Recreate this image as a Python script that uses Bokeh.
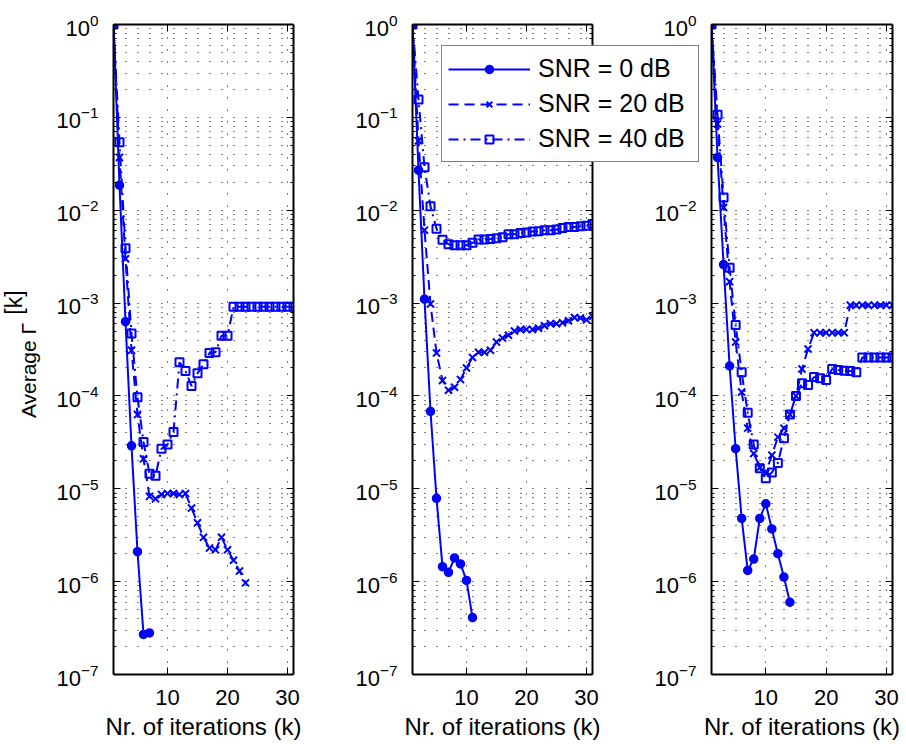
from bokeh.plotting import figure
from bokeh.layouts import row
from bokeh.models import (FixedTicker, LinearAxis, LogAxis, Legend, LegendItem,
                          Label, Range1d, CustomJSTickFormatter)
from bokeh.embed import file_html
from bokeh.resources import INLINE

# ---------------- data ----------------
iterations = list(range(1, 32))

# panel 1
p1_snr0 = [1.0, 1.86e-2, 6.3e-4, 2.9e-5, 2.1e-6, 2.7e-7, 2.8e-7]
p1_snr20 = [1.0, 3.7e-2, 3.0e-3, 3.1e-4, 6.3e-5, 2.1e-5, 8.3e-6, 7.8e-6, 8.7e-6,
            8.9e-6, 8.9e-6, 8.7e-6, 8.9e-6, 6.2e-6, 4.3e-6, 3.0e-6, 2.3e-6,
            2.2e-6, 3.0e-6, 2.2e-6, 1.7e-6, 1.3e-6, 9.7e-7]
p1_snr40 = [1.0, 5.4e-2, 3.9e-3, 4.7e-4, 9.7e-5, 3.2e-5, 1.45e-5, 1.38e-5, 2.7e-5,
            3.0e-5, 4.1e-5, 2.3e-4, 1.86e-4, 1.28e-4, 1.75e-4, 2.2e-4, 2.9e-4,
            2.95e-4, 4.45e-4, 4.45e-4, 9.1e-4, 9.1e-4, 9.1e-4, 9.1e-4, 9.1e-4,
            9.1e-4, 9.1e-4, 9.1e-4, 9.1e-4, 9.1e-4, 9.1e-4]

# panel 2
p2_snr0 = [1.0, 2.7e-2, 1.1e-3, 6.8e-5, 7.9e-6, 1.45e-6, 1.26e-6, 1.8e-6, 1.55e-6,
           1.03e-6, 4.1e-7]
p2_snr20 = [1.0, 5.6e-2, 6.1e-3, 9.8e-4, 2.9e-4, 1.47e-4, 1.15e-4, 1.24e-4, 1.5e-4,
            2.0e-4, 2.6e-4, 2.95e-4, 2.95e-4, 3.1e-4, 3.8e-4, 4.2e-4, 4.5e-4,
            5.0e-4, 5.2e-4, 5.2e-4, 5.2e-4, 5.35e-4, 5.7e-4, 6.0e-4, 6.0e-4,
            6.15e-4, 6.45e-4, 7.0e-4, 6.9e-4, 6.6e-4, 7.2e-4]
p2_snr40 = [1.0, 1.56e-1, 2.9e-2, 1.1e-2, 6.3e-3, 4.8e-3, 4.3e-3, 4.2e-3, 4.2e-3,
            4.2e-3, 4.45e-3, 4.84e-3, 4.84e-3, 4.9e-3, 5.0e-3, 5.1e-3, 5.5e-3,
            5.5e-3, 5.7e-3, 5.75e-3, 5.9e-3, 5.95e-3, 6.1e-3, 6.1e-3, 6.2e-3,
            6.45e-3, 6.6e-3, 6.6e-3, 6.7e-3, 6.8e-3, 7.1e-3]

# panel 3
p3_snr0 = [1.0, 3.7e-2, 2.6e-3, 2.1e-4, 2.7e-5, 4.8e-6, 1.32e-6, 1.75e-6, 4.8e-6,
           6.9e-6, 3.7e-6, 2.0e-6, 1.12e-6, 6.0e-7]
p3_snr20 = [1.0, 8.5e-2, 1.07e-2, 1.7e-3, 3.8e-4, 1.1e-4, 4.5e-5, 2.4e-5, 1.7e-5,
            1.48e-5, 2.3e-5, 3.6e-5, 4.5e-5, 6.3e-5, 1.0e-4, 1.95e-4, 3.2e-4,
            4.8e-4, 4.8e-4, 4.8e-4, 4.8e-4, 4.8e-4, 4.8e-4, 9.5e-4, 9.5e-4,
            9.5e-4, 9.5e-4, 9.5e-4, 9.5e-4, 9.5e-4, 9.5e-4]
p3_snr40 = [1.0, 1.07e-1, 1.37e-2, 2.4e-3, 5.8e-4, 1.8e-4, 6.6e-5, 3.0e-5, 1.66e-5,
            1.3e-5, 1.5e-5, 1.9e-5, 3.5e-5, 6.3e-5, 1.0e-4, 1.37e-4, 1.31e-4,
            1.6e-4, 1.55e-4, 1.48e-4, 1.95e-4, 1.9e-4, 1.87e-4, 1.85e-4, 1.8e-4,
            2.6e-4, 2.6e-4, 2.6e-4, 2.6e-4, 2.6e-4, 2.6e-4]

x_tick_values = [10, 20, 30]
y_tick_values = [1e-7, 1e-6, 1e-5, 1e-4, 1e-3, 1e-2, 1e-1, 1e0]
y_minor_values = [m * 10.0 ** e for e in range(-7, 0) for m in range(2, 10)]
legend_labels = ["SNR = 0 dB", "SNR = 20 dB", "SNR = 40 dB"]
x_label = "Nr. of iterations (k)"
y_label = "Average Γ"
y_label_sup = "[k]"

# ---------------- style ----------------
FONT = "Liberation Sans"
BLUE = "#0000ff"
series_styles = [
    dict(dash="solid", marker="circle", size=8, lw=1.5, fill=BLUE),
    dict(dash="10 6", marker="x", size=10, lw=2, fill=None),
    dict(dash="10 5 2 5", marker="square", size=8, lw=2, fill=None),
]


def style_axis(ax, labels=True):
    ax.axis_line_color = "black"
    ax.axis_line_width = 2
    ax.major_tick_line_color = "black"
    ax.minor_tick_line_color = "black"
    ax.major_tick_line_width = 1
    ax.minor_tick_line_width = 1
    ax.major_tick_in = 7
    ax.major_tick_out = 0
    ax.minor_tick_in = 3
    ax.minor_tick_out = 0
    if labels:
        ax.major_label_text_font = FONT
        ax.major_label_text_font_size = "22px"
        ax.major_label_text_color = "black"
    else:
        ax.formatter = CustomJSTickFormatter(code="return ''")
        ax.major_label_text_font_size = "1px"
        ax.major_label_standoff = 0


def add_series(p, series):
    renderers = []
    for vals, st in zip(series, series_styles):
        xs = iterations[:len(vals)]
        ln = p.line(xs, vals, line_color=BLUE, line_width=2, line_dash=st["dash"])
        sc = p.scatter(xs, vals, marker=st["marker"], size=st["size"],
                       line_color=BLUE, line_width=st["lw"],
                       fill_color=st["fill"])
        renderers.append([ln, sc])
    return renderers


def make_panel(width, left, right, series):
    p = figure(width=width, height=744, x_range=Range1d(1, 31),
               y_range=Range1d(1e-7, 1), y_axis_type="log",
               output_backend="svg", toolbar_location=None,
               min_border_left=left, min_border_right=right,
               min_border_top=24, min_border_bottom=70,
               background_fill_color="white", border_fill_color=None,
               outline_line_color=None)
    xt = FixedTicker(ticks=x_tick_values)
    yt = FixedTicker(ticks=y_tick_values, minor_ticks=y_minor_values)
    p.xaxis.ticker = xt
    p.yaxis.ticker = yt
    p.xgrid.ticker = xt
    p.ygrid.ticker = yt
    for g in (p.xgrid, p.ygrid):
        g.grid_line_color = "black"
        g.grid_line_width = 1
        g.grid_line_dash = "1 11"
    p.ygrid.minor_grid_line_color = "black"
    p.ygrid.minor_grid_line_width = 1
    p.ygrid.minor_grid_line_dash = "1 11"

    style_axis(p.xaxis[0])
    p.xaxis.minor_tick_in = 0
    p.xaxis.major_label_standoff = 15
    p.xaxis.axis_label = x_label
    p.xaxis.axis_label_text_font = FONT
    p.xaxis.axis_label_text_font_size = "24px"
    p.xaxis.axis_label_text_font_style = "normal"
    p.xaxis.axis_label_text_color = "black"
    p.xaxis.axis_label_standoff = 5
    style_axis(p.yaxis[0])
    p.yaxis.major_label_standoff = 15

    top = LinearAxis(ticker=xt)
    style_axis(top, labels=False)
    top.minor_tick_in = 0
    p.add_layout(top, "above")
    rgt = LogAxis(ticker=yt)
    style_axis(rgt, labels=False)
    p.add_layout(rgt, "right")

    renderers = add_series(p, series)
    return p, renderers


def make_overlay(width):
    # a bare, transparent canvas (its frame is aligned with the panels' frames)
    p = figure(width=width, height=744, x_range=Range1d(100, 101),
               y_range=Range1d(100, 101), output_backend="svg",
               toolbar_location=None, x_axis_location=None,
               y_axis_location=None, min_border=0,
               background_fill_color=None, border_fill_color=None,
               outline_line_color=None)
    p.xgrid.visible = False
    p.ygrid.visible = False
    return p


# overlay canvas holding the y label of the first panel (x 0..60)
f0 = make_overlay(60)
f0.add_layout(Label(x=28, y=304, x_units="screen", y_units="screen",
                    text=y_label, angle=90, angle_units="deg",
                    text_align="center", text_baseline="middle",
                    text_font=FONT, text_font_size="21px", text_color="black"))
f0.add_layout(Label(x=13, y=372, x_units="screen", y_units="screen",
                    text=y_label_sup, angle=90, angle_units="deg",
                    text_align="center", text_baseline="middle",
                    text_font=FONT, text_font_size="23px", text_color="black"))

# the three panels (canvases overlap with transparent borders)
f1, _ = make_panel(320, 113, 27, [p1_snr0, p1_snr20, p1_snr40])
f2, _ = make_panel(300, 112, 8, [p2_snr0, p2_snr20, p2_snr40])
f3, _ = make_panel(306, 111, 14, [p3_snr0, p3_snr20, p3_snr40])
f1.margin = (0, 0, 0, -60)
f2.margin = (0, 0, 0, -20)

# overlay canvas on top of panels 2 and 3 (x 430..710) carrying the legend;
# its series renderers lie outside its (invisible) ranges, only the legend shows
fL = make_overlay(280)
rsL = add_series(fL, [p2_snr0, p2_snr20, p2_snr40])
fL.margin = (0, 196, 0, -476)

legend = Legend(items=[LegendItem(label=lab, renderers=r)
                       for lab, r in zip(legend_labels, rsL)],
                location=(11, 512))
legend.label_text_font = FONT
legend.label_text_font_size = "25px"
legend.label_text_color = "black"
legend.glyph_width = 82
legend.glyph_height = 20
legend.label_height = 33
legend.label_width = 154
legend.label_standoff = 8
legend.padding = 6
legend.spacing = 2
legend.margin = 0
legend.border_line_color = "black"
legend.border_line_width = 1.5
legend.background_fill_color = "white"
legend.background_fill_alpha = 1.0
fL.add_layout(legend)

layout = row(f0, f1, f2, f3, fL)
open("out.html", "w").write(file_html(layout, INLINE))
